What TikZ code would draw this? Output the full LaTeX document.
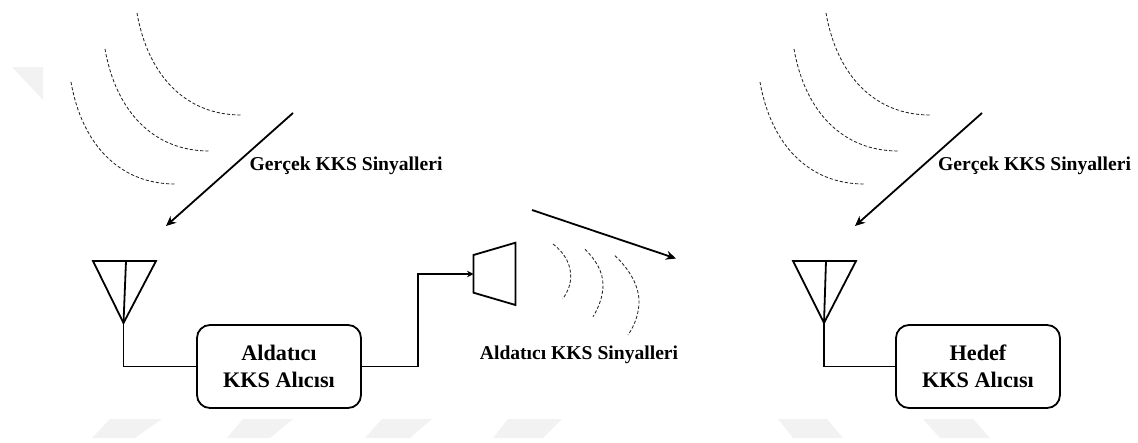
\documentclass[tikz,border=0pt]{standalone}
\usepackage{fontspec}
\setmainfont{Liberation Serif}
\usetikzlibrary{arrows.meta}
\tikzset{
  x=1pt,y=-1pt,
  wire/.style={draw=black,line width=1.8pt,line join=miter},
  sigarrow/.style={draw=black,line width=1.8pt,-{Stealth[length=10pt,width=9pt]}},
  feedarrow/.style={draw=black,line width=1.8pt,-{Stealth[length=6.5pt,width=6.5pt]}},
  wave/.style={draw=black!85,line width=0.85pt,dash pattern=on 3.2pt off 2pt},
  rxbox/.style={draw=black,line width=1.8pt,rounded corners=13pt,minimum width=164pt,minimum height=83pt,inner sep=0pt,align=center,font=\bfseries\fontsize{22.2}{27}\selectfont},
  siglabel/.style={inner sep=0pt,font=\bfseries\fontsize{19.6}{22}\selectfont},
  wm/.style={fill=black!5,draw=none}
}
\begin{document}
\begin{tikzpicture}
\useasboundingbox (0,0) rectangle (1138,442);
% faint background marks
\fill[black!5] (12,67) -- (43,67) -- (43,100) -- cycle;
\foreach \a/\b/\c/\d in {110/162/135/92,243/293/270/227,382/432/410/365,508/562/543/493}{
  \fill[wm] (\a,419) -- (\b,419) -- (\c,438) -- (\d,438) -- cycle;}
\foreach \a/\b/\c/\d in {778/827/843/793,923/973/990/940}{
  \fill[wm] (\a,419) -- (\b,419) -- (\c,438) -- (\d,438) -- cycle;}
% incoming waves
\foreach \dx/\dy in {0/0,34/-33,66/-69,689/0,723/-33,755/-69}{
  \draw[wave] (71+\dx,82+\dy) .. controls (82+\dx,145+\dy) and (120+\dx,184+\dy) .. (175+\dx,184+\dy);}
% nodes
\node[rxbox] (rxa) at (279,366.5) {Aldatıcı\\KKS Alıcısı};
\node[rxbox] (rxh) at (978,366.5) {Hedef\\KKS Alıcısı};
\node[siglabel,anchor=west] (la) at (249.5,165.5) {Gerçek KKS Sinyalleri};
\node[siglabel,anchor=west] (lb) at (938,165.5) {Gerçek KKS Sinyalleri};
\node[siglabel,anchor=center] (lc) at (579,355) {Aldatıcı KKS Sinyalleri};
% signal arrows
\coordinate (s1) at (293,113); \coordinate (e1) at (166,226);
\coordinate (s2) at (982,113); \coordinate (e2) at (855,226);
\coordinate (s3) at (532,210); \coordinate (e3) at (676,258.5);
\draw[sigarrow] (s1) -- (e1);
\draw[sigarrow] (s2) -- (e2);
\draw[sigarrow] (s3) -- (e3);
% antennas
\coordinate (a1) at (123.5,323);
\coordinate (a2) at (824,323);
\draw[wire] (93,261) -- (156,261) -- (a1) -- cycle;
\draw[wire] (126,261) -- (a1);
\draw[wire] (793,261) -- (856,261) -- (a2) -- cycle;
\draw[wire] (826,261) -- (a2);
\draw[wire] (a1) |- (rxa.west);
\draw[wire] (a2) |- (rxh.west);
% horn
\coordinate (h1) at (473.5,255); \coordinate (h2) at (515.5,242.7);
\coordinate (h3) at (515.5,305); \coordinate (h4) at (473.5,292.7);
\coordinate (hin) at (473.5,274);
\draw[wire] (h1) -- (h2) -- (h3) -- (h4) -- cycle;
\coordinate (bend) at (418,274);
\draw[feedarrow] (rxa.east) -| (bend) -- (hin);
% outgoing waves
\draw[wave] (553,244) .. controls (566,254) and (571,266) .. (570.7,277) .. controls (570.5,286) and (567,293) .. (562.7,299);
\draw[wave] (585,249.3) .. controls (596,260) and (603,272) .. (603,285) .. controls (603,296) and (599,307) .. (593,316.7);
\draw[wave] (615,255.7) .. controls (630,270) and (639,286) .. (639,301.7) .. controls (639,313) and (635,325) .. (628,335);
\end{tikzpicture}
\end{document}
